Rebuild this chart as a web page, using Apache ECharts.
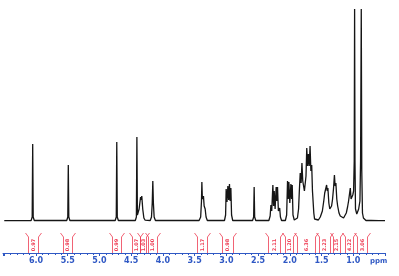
<!DOCTYPE html>
<html>
<head>
<meta charset="utf-8">
<script src="https://cdn.jsdelivr.net/npm/echarts@6/dist/echarts.min.js"></script>
<style>
html, body { margin: 0; background: #fff; }
#main { width: 399px; height: 276px; }
</style>
</head>
<body>
<div id="main"></div>
<script>
// spectrum trace: [ppm, intensity]
var trace = [
	[6.50, 0.3], [6.20, 0.3],
	[6.077, 0.5], [6.060, 4], [6.052, 77], [6.044, 4], [6.027, 0.5],
	[5.516, 0.5], [5.499, 4], [5.491, 56], [5.483, 4], [5.466, 0.5],
	[4.752, 0.5], [4.735, 4], [4.727, 79], [4.719, 4], [4.702, 0.5],
	[4.435, 0.5], [4.418, 4], [4.410, 84], [4.402, 6], [4.390, 8], [4.375, 12],
	[4.352, 24], [4.343, 21], [4.333, 25], [4.318, 12], [4.300, 3], [4.280, 0.8],
	[4.200, 0.5], [4.180, 4], [4.168, 18], [4.159, 40], [4.150, 18], [4.138, 4], [4.118, 0.5],
	[3.430, 0.5], [3.405, 4], [3.392, 20], [3.386, 39], [3.378, 22], [3.370, 22],
	[3.361, 25], [3.350, 15], [3.334, 12], [3.320, 4], [3.300, 0.5],
	[3.030, 0.5], [3.012, 6], [3.003, 32], [2.990, 19], [2.976, 35], [2.963, 21],
	[2.951, 37], [2.940, 20], [2.929, 33], [2.918, 6], [2.900, 0.5],
	[2.587, 0.5], [2.570, 4], [2.562, 34], [2.554, 4], [2.537, 0.5],
	[2.330, 0.5], [2.310, 5], [2.298, 16], [2.285, 10], [2.267, 36], [2.256, 15],
	[2.246, 30], [2.232, 12], [2.215, 34], [2.205, 20], [2.194, 34], [2.180, 10],
	[2.160, 13], [2.148, 4], [2.130, 0.5],
	[2.070, 0.5], [2.050, 6], [2.036, 40], [2.025, 22], [2.015, 39], [2.000, 18],
	[1.983, 37], [1.972, 22], [1.962, 36], [1.950, 6], [1.930, 1],
	[1.900, 0.5], [1.880, 3], [1.862, 12], [1.850, 30], [1.836, 48], [1.822, 38],
	[1.809, 58], [1.796, 40], [1.784, 42], [1.770, 30], [1.757, 30], [1.745, 45],
	[1.733, 73], [1.720, 55], [1.707, 67], [1.694, 55], [1.681, 75], [1.668, 50],
	[1.655, 56], [1.643, 30], [1.634, 28], [1.622, 8], [1.610, 2], [1.590, 0.5],
	[1.550, 1], [1.520, 4], [1.487, 10], [1.465, 20], [1.450, 28], [1.435, 30],
	[1.420, 36], [1.410, 30], [1.400, 33], [1.385, 18], [1.370, 12], [1.356, 10],
	[1.342, 15], [1.328, 21], [1.312, 32], [1.297, 46], [1.286, 35], [1.274, 38],
	[1.260, 22], [1.246, 15], [1.225, 8], [1.205, 5], [1.180, 3], [1.153, 3],
	[1.130, 5], [1.110, 8], [1.090, 14], [1.074, 20], [1.060, 18], [1.047, 33],
	[1.035, 22], [1.020, 24], [1.008, 26], [0.995, 30], [0.985, 60], [0.979, 212],
	[0.973, 60], [0.965, 12], [0.945, 7], [0.930, 8], [0.915, 12], [0.895, 20],
	[0.885, 60], [0.874, 212], [0.866, 50], [0.855, 8], [0.840, 3], [0.820, 1],
	[0.800, 0.5], [0.720, 0.5], [0.710, 2.5], [0.700, 0.5], [0.600, 0.3], [0.500, 0.3]
];

// integration regions (ppm from, ppm to) and their values
var intFrom = [6.126, 5.574, 4.801, 4.486, 4.360, 4.233, 3.461, 3.066, 2.341, 2.073, 1.884, 1.537, 1.316, 1.126, 0.937];
var intTo = [5.968, 5.432, 4.659, 4.360, 4.265, 4.091, 3.300, 2.893, 2.151, 1.946, 1.600, 1.360, 1.205, 1.000, 0.779];
var intLabels = ['0.97', '0.98', '0.99', '1.07', '1.03', '1.00', '1.17', '0.98', '2.11', '1.20', '6.36', '2.23', '2.15', '4.22', '3.06'];

var ppmMin = 0.5, ppmMax = 6.52;
var blue = '#2f58c4';
var red = '#ee3b52';

var integrals = intFrom.map(function(f, i) {
	return [f, intTo[i]];
});

var myChart = echarts.init(document.getElementById('main'));

function renderIntegral(params, api) {
	var a = api.coord([api.value(0), 1]);
	var b = api.coord([api.value(1), 0]);
	var x0 = Math.round(a[0]) + 0.5, x1 = Math.round(b[0]) + 0.5;
	var top = a[1], bot = b[1];
	var style = { stroke: red, lineWidth: 0.8, fill: null };
	return {
		type: 'group',
		children: [
			{ type: 'polyline', shape: { points: [[x0 - 3, top], [x0, top + 4], [x0, bot]] }, style: style },
			{ type: 'polyline', shape: { points: [[x1 + 3, top], [x1, top + 4], [x1, bot]] }, style: style },
			{
				type: 'text',
				x: (x0 + x1) / 2,
				y: (top + bot) / 2 + 2,
				rotation: Math.PI / 2,
				style: {
					text: intLabels[params.dataIndex],
					fill: red,
					font: 'bold 5px "DejaVu Sans"',
					align: 'center',
					verticalAlign: 'middle'
				}
			}
		]
	};
}

var option = {
	animation: false,
	grid: [
		{ left: 3, right: 14, top: 9, bottom: 53 },
		{ left: 3, right: 14, top: 233, bottom: 23 }
	],
	xAxis: [
		{ gridIndex: 0, type: 'value', min: ppmMin, max: ppmMax, inverse: true, show: false },
		{
			gridIndex: 1, type: 'value', min: ppmMin, max: ppmMax, inverse: true, interval: 0.5,
			axisLine: { lineStyle: { color: blue, width: 1 } },
			axisTick: { length: 3, lineStyle: { color: blue } },
			minorTick: { show: true, splitNumber: 5, length: 2, lineStyle: { color: blue } },
			splitLine: { show: false },
			axisLabel: {
				margin: 4,
				color: blue,
				fontSize: 8,
				fontWeight: 'bold',
				fontFamily: 'DejaVu Sans',
				formatter: function(v) {
					if (v < 0.6 || v > 6.4) return '';
					return v.toFixed(1);
				}
			}
		}
	],
	yAxis: [
		{ gridIndex: 0, type: 'value', min: -2, max: 212, show: false },
		{ gridIndex: 1, type: 'value', min: 0, max: 1, show: false }
	],
	graphic: [{
		type: 'text', left: 370, top: 258,
		style: { text: 'ppm', fill: blue, font: 'bold 7px "DejaVu Sans"' }
	}],
	series: [
		{
			type: 'line',
			xAxisIndex: 0,
			yAxisIndex: 0,
			data: trace,
			showSymbol: false,
			clip: true,
			lineStyle: { color: '#151515', width: 1.3 }
		},
		{
			type: 'custom',
			xAxisIndex: 1,
			yAxisIndex: 1,
			data: integrals,
			renderItem: renderIntegral,
			clip: false
		}
	]
};
myChart.setOption(option);
</script>
</body>
</html>
